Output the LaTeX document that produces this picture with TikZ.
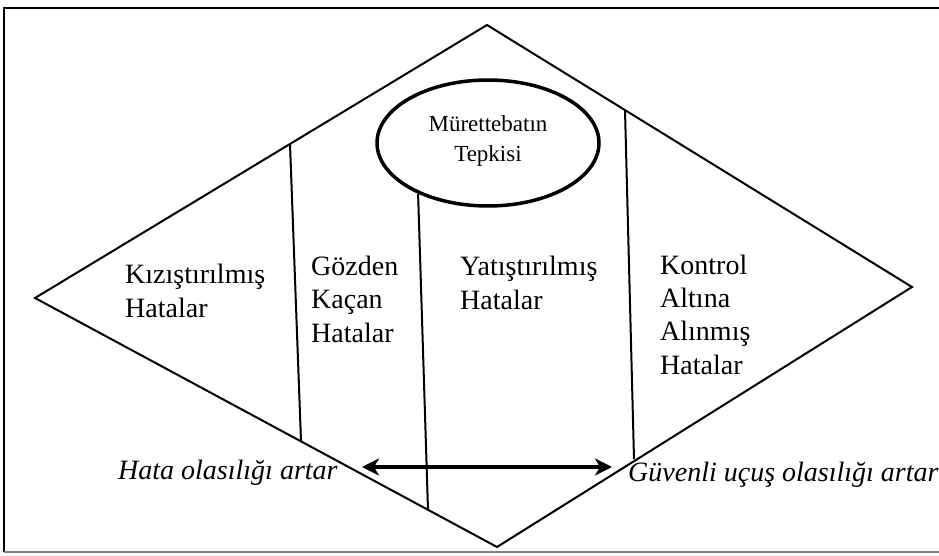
\documentclass[tikz,border=0pt]{standalone}
\usepackage{fontspec}
\setmainfont{Liberation Serif}
\usetikzlibrary{arrows.meta,shapes.geometric}

\begin{document}
\begin{tikzpicture}[x=1pt,y=-1pt,
  edge/.style={line width=2pt},
  lbl/.style={anchor=base west,align=left,inner sep=0pt,font=\fontsize{28}{33.3}\selectfont},
  note/.style={anchor=base west,inner sep=0pt,font=\fontsize{28}{30}\selectfont\itshape}]
  \useasboundingbox (0,0) rectangle (939,556);
  % frame
  \draw[line width=1.5pt] (4,552) -- (4,8) -- (950,8);
  \draw[gray,line width=2pt] (4,552) -- (950,552);
  % diamond
  \coordinate (top) at (487,25);
  \coordinate (left) at (35,298);
  \coordinate (bot) at (497,547);
  \coordinate (right) at (912,287);
  \draw[edge,line join=miter] (top) -- (right) -- (bot) -- (left) -- cycle;
  \node[draw,ellipse,line width=3.5pt,minimum width=222,minimum height=126,fill=white] (crew) at (488,143) {};
  \node[align=center,font=\fontsize{23}{29.5}\selectfont] (crewtxt) at (488,141) {Mürettebatın\\Tepkisi};
  % dividers
  \coordinate (d1a) at (290,144);
  \coordinate (d1b) at (301,441);
  \coordinate (d2b) at (428,510);
  \coordinate (d3a) at (625,110);
  \coordinate (d3b) at (634,459);
  \draw[edge] (d1a) -- (d1b);
  \draw[edge] (crew.216) -- (d2b);
  \draw[edge] (d3a) -- (d3b);
  % error groups (base = last line)
  \node[lbl] (kiz) at (125,317) {Kızıştırılmış\\Hatalar};
  \node[lbl] (goz) at (311,342) {Gözden\\Kaçan\\Hatalar};
  \node[lbl] (yat) at (460,309) {Yatıştırılmış\\Hatalar};
  \node[lbl] (kon) at (660,374) {Kontrol\\Altına\\Alınmış\\Hatalar};
  % bottom scale
  \node[note] (hata) at (118,479) {Hata olasılığı artar};
  \node[note] (guv) at (628,481) {Güvenli uçuş olasılığı artar};
  \coordinate (al) at (362,467);
  \coordinate (ar) at (612,467);
  \draw[{Stealth[length=17pt,width=17pt,inset=5pt]}-{Stealth[length=17pt,width=17pt,inset=5pt]},line width=3.5pt] (al) -- (ar);
\end{tikzpicture}
\end{document}
